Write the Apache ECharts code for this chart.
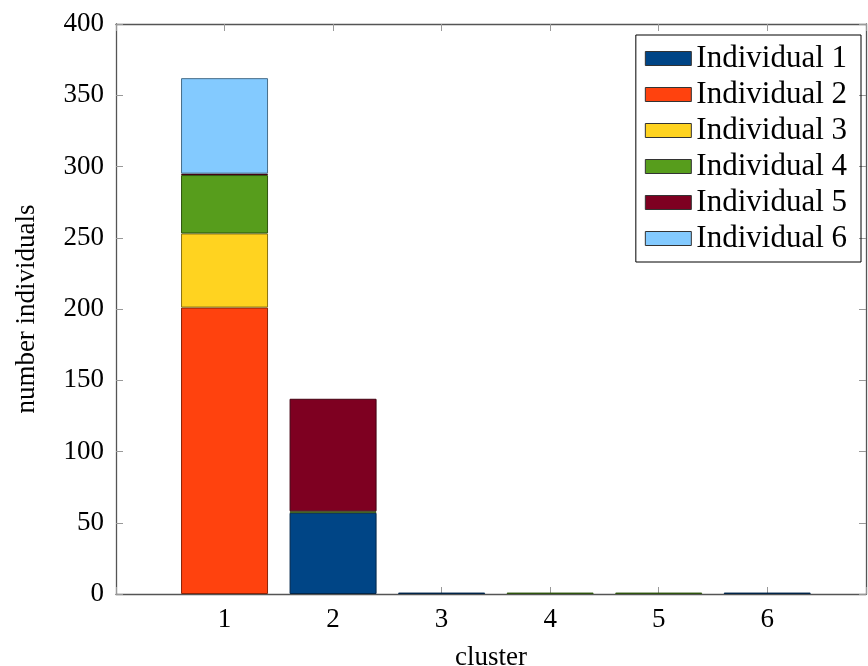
<!DOCTYPE html>
<html>
<head>
<meta charset="utf-8">
<script src="https://cdn.jsdelivr.net/npm/echarts@6/dist/echarts.min.js"></script>
<style>
    html, body { margin: 0; padding: 0; background: #fff; }
    #chart { width: 868px; height: 666px; }
</style>
</head>
<body>
<div id="chart"></div>
<script>
const clusters = ['1', '2', '3', '4', '5', '6'];
const seriesNames = ['Individual 1', 'Individual 2', 'Individual 3', 'Individual 4', 'Individual 5', 'Individual 6'];
// counts per cluster, one array per individual
const individual1 = [0, 57, 1, 0, 0, 1];
const individual2 = [201, 0, 0, 0, 0, 0];
const individual3 = [52, 0, 0, 0, 0, 0];
const individual4 = [41, 1, 0, 1, 1, 0];
const individual5 = [1, 79, 0, 0, 0, 0];
const individual6 = [67, 0, 0, 0, 0, 0];
const yTicks = [0, 50, 100, 150, 200, 250, 300, 350, 400];
const xMax = 6.91;

const colors = ['#004586', '#ff420e', '#ffd320', '#579d1c', '#7e0021', '#83caff'];
const borders = ['#00264a', '#8a2408', '#8a7312', '#2f550f', '#440012', '#476e8a'];
const values = [individual1, individual2, individual3, individual4, individual5, individual6];
const font = 'Liberation Serif';

(function () {
    const el = document.getElementById('chart');
    const chart = echarts.init(el);

    // frame grid spans x 0..xMax; bar grid spans x 0.5..6.5 of it
    const left = 116, right = 2, top = 24, bottom = 72;
    const unit = (el.clientWidth - left - right) / xMax;
    const barLeft = left + 0.5 * unit;
    const barRight = el.clientWidth - (left + (clusters.length + 0.5) * unit);

    const series = values.map(function (vals, i) {
        return {
            name: seriesNames[i],
            type: 'bar',
            stack: 'total',
            xAxisIndex: 2,
            yAxisIndex: 2,
            barWidth: Math.round(unit * 0.8),
            itemStyle: { color: colors[i], borderColor: borders[i], borderWidth: 1 },
            data: vals.map(function (v) { return v > 0 ? v : '-'; })
        };
    });

    const tickStyle = { show: true, inside: true, length: 7, lineStyle: { color: '#999', width: 1 } };
    const lineStyle = { show: true, onZero: false, lineStyle: { color: '#555', width: 1.3 } };
    const hidden = { show: false };

    chart.setOption({
        animation: false,
        grid: [
            { left: left, right: right, top: top, bottom: bottom, outerBoundsMode: 'none', containLabel: false },
            { left: barLeft, right: barRight, top: top, bottom: bottom, outerBoundsMode: 'none', containLabel: false }
        ],
        legend: {
            orient: 'vertical',
            right: 7,
            top: 35,
            data: seriesNames,
            icon: 'rect',
            itemWidth: 46,
            itemHeight: 14,
            itemGap: 5,
            borderColor: '#000',
            borderWidth: 1,
            padding: [8, 14, 8, 9],
            itemStyle: { borderColor: '#333', borderWidth: 1 },
            textStyle: { fontFamily: font, fontSize: 31, color: '#000', lineHeight: 30 }
        },
        xAxis: [{
            type: 'value',
            gridIndex: 0,
            min: 0,
            max: xMax,
            interval: 1,
            name: 'cluster',
            nameLocation: 'middle',
            nameGap: 50,
            nameTextStyle: { fontFamily: font, fontSize: 27, color: '#000' },
            splitLine: hidden,
            axisLine: lineStyle,
            axisTick: tickStyle,
            axisLabel: {
                fontFamily: font, fontSize: 27, color: '#000', margin: 12,
                formatter: function (v) { return clusters.indexOf(String(v)) >= 0 ? String(v) : ''; }
            }
        }, {
            type: 'value',
            gridIndex: 0,
            position: 'top',
            min: 0,
            max: xMax,
            interval: 1,
            splitLine: hidden,
            axisLine: lineStyle,
            axisTick: tickStyle,
            axisLabel: hidden
        }, {
            type: 'category',
            gridIndex: 1,
            data: clusters,
            show: false
        }],
        yAxis: [{
            type: 'value',
            gridIndex: 0,
            min: yTicks[0],
            max: yTicks[yTicks.length - 1],
            interval: 50,
            name: 'number individuals',
            nameLocation: 'middle',
            nameGap: 76,
            nameTextStyle: { fontFamily: font, fontSize: 27, color: '#000' },
            splitLine: hidden,
            axisLine: lineStyle,
            axisTick: tickStyle,
            axisLabel: { fontFamily: font, fontSize: 27, color: '#000', margin: 12 }
        }, {
            type: 'value',
            gridIndex: 0,
            position: 'right',
            min: yTicks[0],
            max: yTicks[yTicks.length - 1],
            interval: 50,
            splitLine: hidden,
            axisLine: lineStyle,
            axisTick: tickStyle,
            axisLabel: hidden
        }, {
            type: 'value',
            gridIndex: 1,
            min: yTicks[0],
            max: yTicks[yTicks.length - 1],
            show: false
        }],
        series: series
    });

    window.addEventListener('resize', chart.resize.bind(chart));
})();
</script>
</body>
</html>
